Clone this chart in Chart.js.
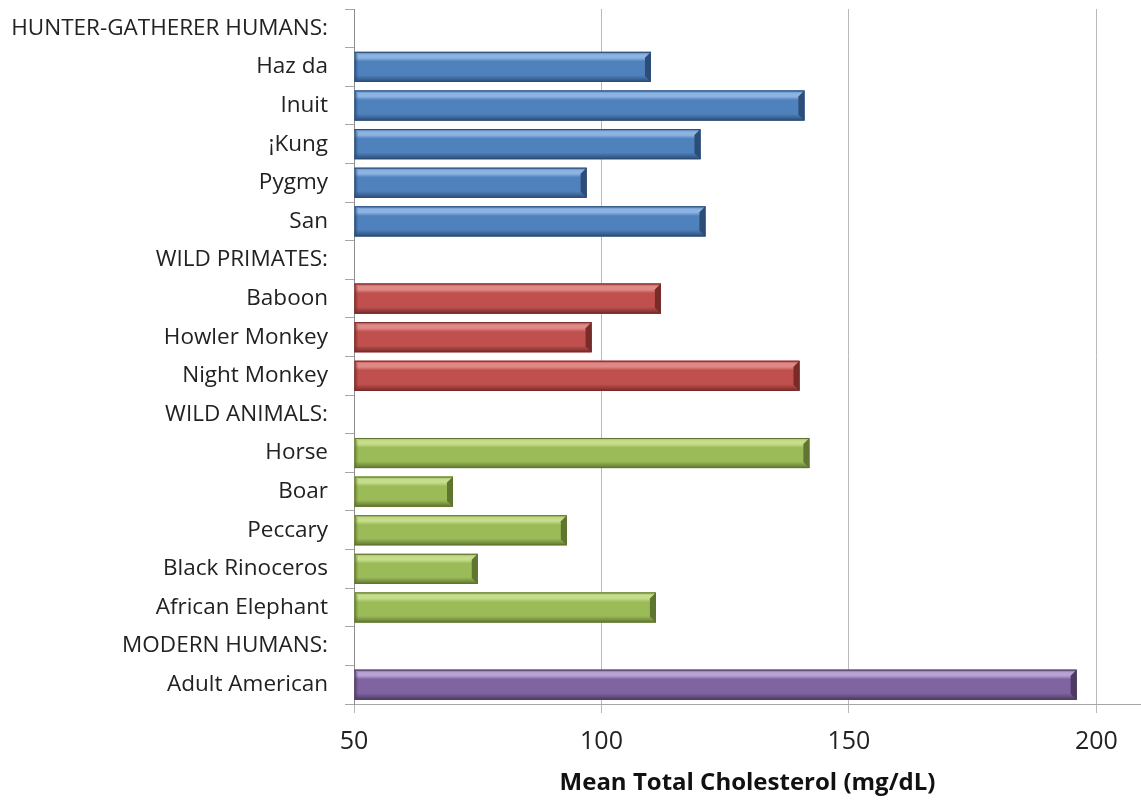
<!DOCTYPE html>
<html>
<head>
<meta charset="utf-8">
<script src="https://cdn.jsdelivr.net/npm/chart.js@4/dist/chart.umd.min.js"></script>
<style>
  html, body { margin: 0; padding: 0; background: #fff; }
  #wrap { width: 1141px; height: 800px; position: relative; }
</style>
</head>
<body>
<div id="wrap"><canvas id="canvas"></canvas></div>
<script>
// categories, top to bottom
const categories = [
  'HUNTER-GATHERER HUMANS:', 'Haz da', 'Inuit', '¡Kung', 'Pygmy', 'San',
  'WILD PRIMATES:', 'Baboon', 'Howler Monkey', 'Night Monkey',
  'WILD ANIMALS:', 'Horse', 'Boar', 'Peccary', 'Black Rinoceros', 'African Elephant',
  'MODERN HUMANS:', 'Adult American'
];
// mean total cholesterol (mg/dL), null for the group headers
const cholesterol = [null, 110, 141, 120, 97, 121, null, 112, 98, 140, null, 142, 70, 93, 75, 111, null, 196];
// group of each row (0 hunter-gatherers, 1 primates, 2 wild animals, 3 modern)
const groups = [0, 0, 0, 0, 0, 0, 1, 1, 1, 1, 2, 2, 2, 2, 2, 2, 3, 3];
const xTicks = [50, 100, 150, 200];
const xMin = 50;
const xMax = 209;

// main / light / dark colour per group
const palette = [
  { main: '#4f81bd', light: '#8db3e2', dark: '#2c4d75' },
  { main: '#c0504d', light: '#e08a88', dark: '#772c2a' },
  { main: '#9bbb59', light: '#c6dd8c', dark: '#5f7530' },
  { main: '#8064a2', light: '#b7a2d3', dark: '#4d3b62' }
];

// bevel look of the bars, drawn over the library's bar elements
const bevel = {
  id: 'bevel',
  afterDatasetsDraw(chart) {
    const ctx = chart.ctx;
    const meta = chart.getDatasetMeta(0);
    meta.data.forEach((bar, i) => {
      if (cholesterol[i] == null) return;
      const p = bar.getProps(['x', 'y', 'base', 'height'], true);
      const c = palette[groups[i]];
      const l = p.base, r = p.x, t = p.y - p.height / 2, b = p.y + p.height / 2;
      const h = b - t;
      ctx.save();
      const g = ctx.createLinearGradient(0, t, 0, b);
      g.addColorStop(0, c.main);
      g.addColorStop(0.1, c.light);
      g.addColorStop(0.2, c.light);
      g.addColorStop(0.32, c.main);
      g.addColorStop(0.78, c.main);
      g.addColorStop(1, c.dark);
      ctx.fillStyle = g;
      ctx.fillRect(l, t, r - l, h);
      // right end cap
      const e = 6;
      ctx.beginPath();
      ctx.moveTo(r - e, t + e);
      ctx.lineTo(r, t);
      ctx.lineTo(r, b);
      ctx.lineTo(r - e, b - e);
      ctx.closePath();
      ctx.fillStyle = c.dark;
      ctx.fill();
      // left edge
      ctx.beginPath();
      ctx.moveTo(l, t);
      ctx.lineTo(l + 3, t + 3);
      ctx.lineTo(l + 3, b - 3);
      ctx.lineTo(l, b);
      ctx.closePath();
      ctx.globalAlpha = 0.4;
      ctx.fill();
      ctx.globalAlpha = 1;
      ctx.strokeStyle = c.dark;
      ctx.lineWidth = 1;
      ctx.strokeRect(l + 0.5, t + 0.5, r - l - 1, h - 1);
      ctx.restore();
    });
  }
};

const ctx = document.getElementById('canvas').getContext('2d');
new Chart(ctx, {
  type: 'bar',
  data: {
    labels: categories,
    datasets: [{
      data: cholesterol,
      base: xMin,
      backgroundColor: groups.map(g => palette[g].main),
      borderWidth: 0,
      barPercentage: 0.78,
      categoryPercentage: 1
    }]
  },
  options: {
    indexAxis: 'y',
    responsive: true,
    maintainAspectRatio: false,
    animation: false,
    layout: { padding: { top: 9, right: 0, left: 0, bottom: 0 } },
    plugins: {
      legend: { display: false },
      tooltip: { enabled: false }
    },
    scales: {
      x: {
        type: 'linear',
        min: xMin,
        max: xMax,
        beginAtZero: false,
        afterBuildTicks: axis => { axis.ticks = xTicks.map(v => ({ value: v })); },
        afterFit: axis => { axis.height = 96; axis.paddingLeft = 0; axis.paddingRight = 0; },
        grid: { color: '#b9b9b9', lineWidth: 1, tickLength: 9, drawTicks: true },
        border: { color: '#a6a6a6', width: 1 },
        ticks: {
          color: '#222',
          padding: 14,
          font: { family: 'Open Sans', size: 25 }
        },
        title: {
          display: true,
          text: 'Mean Total Cholesterol (mg/dL)',
          color: '#111',
          padding: { top: 0, bottom: 2 },
          font: { family: 'Open Sans', size: 24, weight: 'bold' }
        }
      },
      y: {
        afterFit: axis => { axis.width = 354; axis.paddingTop = 0; axis.paddingBottom = 0; },
        grid: { offset: true, drawOnChartArea: false, tickLength: 9, color: '#a6a6a6' },
        border: { color: '#8c8c8c', width: 1 },
        ticks: {
          color: '#222',
          padding: 17,
          autoSkip: false,
          font: { family: 'Open Sans', size: 22.5 }
        }
      }
    }
  },
  plugins: [bevel]
});
</script>
</body>
</html>
